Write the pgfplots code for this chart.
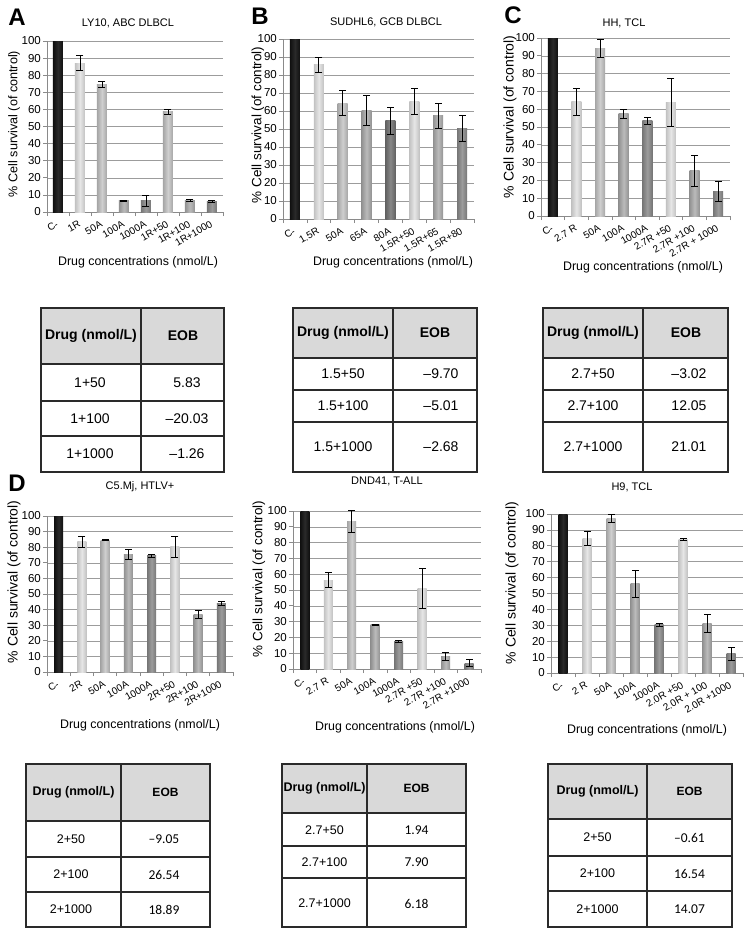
\documentclass[border=0pt]{standalone}
\usepackage{fontspec}
\setmainfont{Liberation Sans}
\newfontfamily\calfont{Carlito}
\usepackage{pgfplots}
\pgfplotsset{compat=1.18}

\definecolor{gridc}{HTML}{9C9C9C}
\definecolor{axc}{HTML}{8A8A8A}
\definecolor{hdr}{HTML}{D9D9D9}
\definecolor{tline}{HTML}{2A2A2A}
\definecolor{c1e}{HTML}{C2C2C2}\definecolor{c1m}{HTML}{E6E6E6}
\definecolor{c2e}{HTML}{A6A6A6}\definecolor{c2m}{HTML}{CFCFCF}
\definecolor{c3e}{HTML}{929292}\definecolor{c3m}{HTML}{BBBBBB}
\definecolor{c4e}{HTML}{767676}\definecolor{c4m}{HTML}{9C9C9C}
\definecolor{c5e}{HTML}{626262}\definecolor{c5m}{HTML}{888888}
\definecolor{cke}{HTML}{101010}\definecolor{ckm}{HTML}{2A2A2A}

\tikzset{
  K/.style={left color=cke, right color=cke, middle color=ckm},
  L1/.style={left color=c1e, right color=c1e, middle color=c1m},
  L2/.style={left color=c2e, right color=c2e, middle color=c2m},
  L3/.style={left color=c3e, right color=c3e, middle color=c3m},
  L4/.style={left color=c4e, right color=c4e, middle color=c4m},
  L5/.style={left color=c5e, right color=c5e, middle color=c5m},
}

\newcommand{\bw}{10pt}
% bar only
\newcommand{\bk}[3]{%
  \addplot[ybar, bar width=\bw, bar shift=0pt, draw=none, #1] coordinates {(#2,#3)};}
% bar with error bar: style, x, value, low, high
\newcommand{\bb}[5]{%
  \addplot[ybar, bar width=\bw, bar shift=0pt, draw=none, #1] coordinates {(#2,#3)};
  \addplot[forget plot, black, line width=0.7pt, mark=-, mark size=3.5pt,
    mark options={solid, black, line width=0.7pt}]
    coordinates {(#2,#4) (#2,#5)};}

\pgfplotsset{
  panel/.style={
    scale only axis, anchor=south west,
    xmin=-0.5, xmax=7.5, ymin=0, ymax=100,
    ytick={0,10,...,100},
    xtick={-0.5,0.5,1.5,2.5,3.5,4.5,5.5,6.5,7.5},
    xticklabels={,,,,,,,,,},
    axis x line*=bottom, axis y line*=left,
    axis line style={axc, line width=0.8pt},
    ymajorgrids, grid style={gridc, line width=0.6pt},
    tick align=outside,
    major tick length=4pt,
    tick style={axc, line width=0.7pt},
    /pgf/number format/assume math mode=true,
    yticklabel style={font=\fontsize{11.5}{12}\selectfont, inner sep=1pt, xshift=-1pt},
    extra x ticks={0,1,2,3,4,5,6,7},
    extra x tick style={major tick length=0pt,
      xticklabel style={font=\fontsize{10}{10}\selectfont, xshift=0pt, yshift=-11pt, rotate=30, anchor=east, inner sep=0.5pt}},
    clip=false,
  }
}

\newcommand{\tgrid}[8]{%
  \fill[hdr] (#1pt,-#4pt) rectangle (#3pt,-#5pt);
  \draw[tline, line width=1.1pt] (#1pt,-#4pt) rectangle (#3pt,-#8pt);
  \draw[tline, line width=1.1pt] (#2pt,-#4pt) -- (#2pt,-#8pt);
  \draw[tline, line width=1.1pt] (#1pt,-#5pt) -- (#3pt,-#5pt);
  \draw[tline, line width=1.1pt] (#1pt,-#6pt) -- (#3pt,-#6pt);
  \draw[tline, line width=1.1pt] (#1pt,-#7pt) -- (#3pt,-#7pt);}
\newcommand{\cell}[4][]{\node[inner sep=0pt, #1] at (#2pt,-#3pt) {#4};}

\begin{document}
\begin{tikzpicture}
\path[use as bounding box] (0pt,0pt) rectangle (750pt,-935pt);

% ---------------- A ----------------
\begin{axis}[panel, at={(47pt,-212pt)}, width=176pt, height=171pt,
  extra x tick labels={C-,1R,50A,100A,1000A,1R+50,1R+100,1R+1000}]
\bk{K}{0}{100}
\bb{L1}{1}{87}{82.6}{91.4}
\bb{L2}{2}{74.8}{73}{76.6}
\bb{L3}{3}{6.7}{6.3}{7.1}
\bb{L4}{4}{6.7}{3.4}{10}
\bb{L2}{5}{58.6}{56.9}{60.3}
\bb{L3}{6}{6.8}{6.4}{7.2}
\bb{L4}{7}{6.3}{5.9}{6.7}
\end{axis}

% ---------------- B ----------------
\begin{axis}[panel, at={(283pt,-219pt)}, width=191pt, height=180pt,
  extra x tick labels={C-,1.5R,50A,65A,80A,1.5R+50,1.5R+65,1.5R+80}]
\bk{K}{0}{100}
\bb{L1}{1}{85.7}{81.4}{90}
\bb{L2}{2}{64.4}{57.6}{71.2}
\bb{L3}{3}{60.2}{51.9}{68.5}
\bb{L5}{4}{54.6}{47.2}{62}
\bb{L1}{5}{65.4}{58.4}{72.4}
\bb{L3}{6}{57.4}{50.6}{64.2}
\bb{L4}{7}{50.4}{43.3}{57.5}
\end{axis}

% ---------------- C ----------------
\begin{axis}[panel, at={(541pt,-216pt)}, width=189pt, height=178pt,
  extra x tick labels={C-,2.7 R,50A,100A,1000A,2.7R +50,2.7R +100,2.7R + 1000}]
\bk{K}{0}{100}
\bb{L1}{1}{64.3}{56.8}{71.8}
\bb{L2}{2}{94.2}{88.9}{99.5}
\bb{L3}{3}{57.6}{55.1}{60.1}
\bb{L4}{4}{53.5}{51.6}{55.4}
\bb{L1}{5}{63.6}{50.1}{77.1}
\bb{L3}{6}{25.3}{16.4}{34.2}
\bb{L4}{7}{13.8}{8.4}{19.2}
\end{axis}

% ---------------- D1 ----------------
\renewcommand{\bw}{9pt}
\begin{axis}[panel, at={(47pt,-672pt)}, width=186pt, height=156pt,
  extra x tick labels={C-,2R,50A,100A,1000A,2R+50,2R+100,2R+1000}]
\bk{K}{0}{100}
\bb{L1}{1}{83.6}{80.2}{87}
\bb{L2}{2}{84.6}{84.2}{85}
\bb{L3}{3}{75.4}{72.1}{78.7}
\bb{L4}{4}{74.5}{73.5}{75.5}
\bb{L1}{5}{80.2}{73.2}{87.2}
\bb{L3}{6}{36.9}{34.3}{39.5}
\bb{L4}{7}{44.0}{42.8}{45.2}
\end{axis}

% ---------------- D2 ----------------
\begin{axis}[panel, at={(293pt,-669pt)}, width=188pt, height=158pt,
  extra x tick labels={C-,2.7 R,50A,100A,1000A,2.7R +50,2.7R +100,2.7R +1000}]
\bk{K}{0}{100}
\bb{L1}{1}{56.3}{51.6}{61}
\bb{L2}{2}{93.6}{86.8}{100.4}
\bb{L3}{3}{28.0}{27.6}{28.4}
\bb{L4}{4}{17.6}{17.1}{18.1}
\bb{L1}{5}{51.2}{38.6}{63.8}
\bb{L3}{6}{8.0}{5.4}{10.6}
\bb{L4}{7}{3.8}{1.8}{5.8}
\end{axis}

% ---------------- D3 ----------------
\begin{axis}[panel, at={(551pt,-673pt)}, width=192pt, height=159pt,
  extra x tick labels={C-,2 R,50A,100A,1000A,2.0R +50,2.0R + 100,2.0R +1000}]
\bk{K}{0}{100}
\bb{L1}{1}{84.8}{80.5}{89.1}
\bb{L2}{2}{97.2}{94.5}{99.9}
\bb{L3}{3}{56.0}{47.7}{64.3}
\bb{L4}{4}{30.4}{29.4}{31.4}
\bb{L1}{5}{84.1}{83.6}{84.6}
\bb{L3}{6}{31.4}{25.7}{37.1}
\bb{L4}{7}{12.0}{8}{16}
\end{axis}

% ---------------- panel letters, titles, axis labels ----------------
\begin{scope}[every node/.style={inner sep=0pt}]
\node[font=\fontsize{24}{24}\selectfont\bfseries] at (17pt,-17pt) {A};
\node[font=\fontsize{24}{24}\selectfont\bfseries] at (260pt,-16pt) {B};
\node[font=\fontsize{24}{24}\selectfont\bfseries] at (513pt,-15pt) {C};
\node[font=\fontsize{24}{24}\selectfont\bfseries] at (17pt,-483pt) {D};

\node[font=\fontsize{11}{12}\selectfont] at (128pt,-23pt) {LY10, ABC DLBCL};
\node[font=\fontsize{11}{12}\selectfont] at (386pt,-22pt) {SUDHL6, GCB DLBCL};
\node[font=\fontsize{11}{12}\selectfont] at (624pt,-23pt) {HH, TCL};
\node[font=\fontsize{11}{12}\selectfont] at (140pt,-487pt) {C5.Mj, HTLV+};
\node[font=\fontsize{11}{12}\selectfont] at (387pt,-481pt) {DND41, T-ALL};
\node[font=\fontsize{11}{12}\selectfont] at (632pt,-487pt) {H9, TCL};

\node[font=\fontsize{12.6}{13}\selectfont, rotate=90] at (14pt,-124pt) {\% Cell survival (of control)};
\node[font=\fontsize{13.5}{14}\selectfont, rotate=90] at (258pt,-125pt) {\% Cell survival (of control)};
\node[font=\fontsize{14}{14}\selectfont, rotate=90] at (510pt,-117pt) {\% Cell survival (of control)};
\node[font=\fontsize{14}{14}\selectfont, rotate=90] at (14pt,-582pt) {\% Cell survival (of control)};
\node[font=\fontsize{13.5}{14}\selectfont, rotate=90] at (259pt,-579pt) {\% Cell survival (of control)};
\node[font=\fontsize{14}{14}\selectfont, rotate=90] at (512pt,-583pt) {\% Cell survival (of control)};

\node[font=\fontsize{12.4}{13}\selectfont] at (138pt,-262pt) {Drug concentrations (nmol/L)};
\node[font=\fontsize{12.4}{13}\selectfont] at (393pt,-262pt) {Drug concentrations (nmol/L)};
\node[font=\fontsize{12.4}{13}\selectfont] at (643pt,-267pt) {Drug concentrations (nmol/L)};
\node[font=\fontsize{12.4}{13}\selectfont] at (140pt,-725pt) {Drug concentrations (nmol/L)};
\node[font=\fontsize{12.4}{13}\selectfont] at (395pt,-727pt) {Drug concentrations (nmol/L)};
\node[font=\fontsize{12.4}{13}\selectfont] at (647pt,-730pt) {Drug concentrations (nmol/L)};
\end{scope}

% ---------------- tables, top row ----------------
\tgrid{41}{141}{224}{308}{364}{401}{436}{472}
\tgrid{293}{393}{477}{308}{358}{390}{422}{472}
\tgrid{543}{643}{728}{308}{358}{390}{422}{472}

\begin{scope}[every node/.style={font=\fontsize{14}{14}\selectfont}]
\cell[font=\fontsize{14}{14}\selectfont\bfseries]{91}{336}{Drug (nmol/L)}
\cell[font=\fontsize{14}{14}\selectfont\bfseries]{183}{336}{EOB}
\cell{90}{382.5}{1+50}\cell{187}{382.5}{5.83}
\cell{90}{418.5}{1+100}\cell{187}{418.5}{–20.03}
\cell{90}{454}{1+1000}\cell{187}{454}{–1.26}

\cell[font=\fontsize{14}{14}\selectfont\bfseries]{343}{333}{Drug (nmol/L)}
\cell[font=\fontsize{14}{14}\selectfont\bfseries]{435}{333}{EOB}
\cell{343}{374}{1.5+50}\cell{441}{374}{–9.70}
\cell{343}{406}{1.5+100}\cell{441}{406}{–5.01}
\cell{343}{447}{1.5+1000}\cell{441}{447}{–2.68}

\cell[font=\fontsize{14}{14}\selectfont\bfseries]{593}{333}{Drug (nmol/L)}
\cell[font=\fontsize{14}{14}\selectfont\bfseries]{686}{333}{EOB}
\cell{593}{374}{2.7+50}\cell{689}{374}{–3.02}
\cell{593}{406}{2.7+100}\cell{689}{406}{12.05}
\cell{593}{447}{2.7+1000}\cell{689}{447}{21.01}
\end{scope}

% ---------------- tables, bottom row ----------------
\tgrid{26}{121}{210}{764}{821}{857}{892}{927}
\tgrid{282}{367}{466}{764}{813}{846}{878}{927}
\tgrid{548}{647}{732}{764}{819}{856}{891}{927}

\begin{scope}[every node/.style={font=\fontsize{12.5}{13}\selectfont}]
\cell[font=\fontsize{12.5}{13}\selectfont\bfseries]{73.5}{792.5}{Drug (nmol/L)}
\cell[font=\fontsize{12}{13}\selectfont\bfseries]{165.5}{792.5}{EOB}
\cell{71}{839}{2+50}\cell[font=\calfont\fontsize{13.5}{14}\selectfont]{164}{839}{–9.05}
\cell{71}{874.5}{2+100}\cell[font=\calfont\fontsize{13.5}{14}\selectfont]{164}{874.5}{26.54}
\cell{71}{909.5}{2+1000}\cell[font=\calfont\fontsize{13.5}{14}\selectfont]{164}{909.5}{18.89}

\cell[font=\fontsize{12.5}{13}\selectfont\bfseries]{324.5}{788.5}{Drug (nmol/L)}
\cell[font=\fontsize{12}{13}\selectfont\bfseries]{416.5}{788.5}{EOB}
\cell{324.5}{830.5}{2.7+50}\cell[font=\calfont\fontsize{13.5}{14}\selectfont]{416.5}{830.5}{1.94}
\cell{324.5}{862.5}{2.7+100}\cell[font=\calfont\fontsize{13.5}{14}\selectfont]{416.5}{862.5}{7.90}
\cell{324.5}{903.5}{2.7+1000}\cell[font=\calfont\fontsize{13.5}{14}\selectfont]{416.5}{903.5}{6.18}

\cell[font=\fontsize{12.5}{13}\selectfont\bfseries]{597.5}{791.5}{Drug (nmol/L)}
\cell[font=\fontsize{12}{13}\selectfont\bfseries]{689.5}{791.5}{EOB}
\cell{597.5}{837.5}{2+50}\cell[font=\calfont\fontsize{13.5}{14}\selectfont]{689.5}{837.5}{–0.61}
\cell{597.5}{873.5}{2+100}\cell[font=\calfont\fontsize{13.5}{14}\selectfont]{689.5}{873.5}{16.54}
\cell{597.5}{909}{2+1000}\cell[font=\calfont\fontsize{13.5}{14}\selectfont]{689.5}{909}{14.07}
\end{scope}

\end{tikzpicture}
\end{document}
